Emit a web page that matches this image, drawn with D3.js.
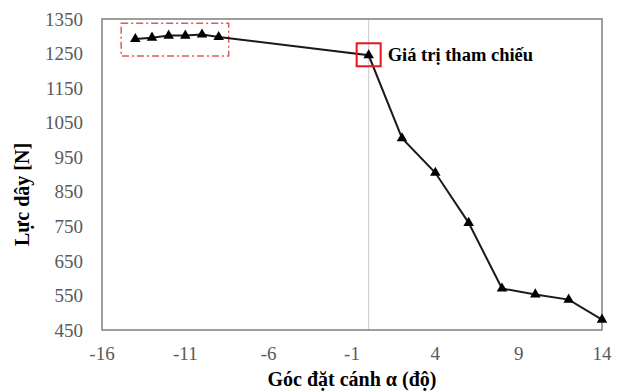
<!DOCTYPE html>
<html>
<head>
<meta charset="utf-8">
<script src="https://cdn.jsdelivr.net/npm/d3@7"></script>
<style>
  body { margin: 0; background: #fff; }
  svg { display: block; }
  text { font-family: "Liberation Serif", "Times New Roman", "DejaVu Serif", serif; }
</style>
</head>
<body>
<div id="chart"></div>
<script>
// goc dat canh (do) va luc day (N)
var angles = [-14, -13, -12, -11, -10, -9, 0, 2, 4, 6, 8, 10, 12, 14];
var forces = [1292, 1296, 1302, 1302, 1305, 1298, 1245, 1005, 905, 760, 570, 553, 538, 480];
var xTicks = [-16, -11, -6, -1, 4, 9, 14];
var yTicks = [450, 550, 650, 750, 850, 950, 1050, 1150, 1250, 1350];
var refIndex = 6;
var refLabel = "Giá trị tham chiếu";
// vung khung do net cham gach
var boxX = [-14.85, -8.4];
var boxY = [1243, 1338];

var margin = { top: 19, right: 18, bottom: 62, left: 102 },
    width = 620 - margin.left - margin.right,
    height = 392 - margin.top - margin.bottom;

var svg = d3.select("#chart")
    .append("svg")
    .attr("width", 620)
    .attr("height", 392)
    .append("g")
    .attr("transform", "translate(" + margin.left + "," + margin.top + ")");

var x = d3.scaleLinear().domain([-16, 14]).range([0, width]);
var y = d3.scaleLinear().domain([450, 1350]).range([height, 0]);

// vertical reference line at 0
svg.append("line")
    .attr("x1", x(0)).attr("x2", x(0))
    .attr("y1", 0).attr("y2", height)
    .style("stroke", "#d0d0d0")
    .style("stroke-width", 1.2);

// plot border
svg.append("rect")
    .attr("x", 0).attr("y", 0)
    .attr("width", width).attr("height", height)
    .style("fill", "none")
    .style("stroke", "#7f7f7f")
    .style("stroke-width", 1.5);

// tick labels
svg.append("g").selectAll("text")
    .data(yTicks).enter()
    .append("text")
    .attr("x", -19)
    .attr("y", function (d) { return y(d); })
    .attr("dy", "0.35em")
    .style("text-anchor", "end")
    .style("font-size", "19px")
    .style("fill", "#595959")
    .text(function (d) { return d; });

svg.append("g").selectAll("text")
    .data(xTicks).enter()
    .append("text")
    .attr("x", function (d) { return x(d); })
    .attr("y", height + 30)
    .style("text-anchor", "middle")
    .style("font-size", "19px")
    .style("fill", "#595959")
    .text(function (d) { return d; });

// axis titles
svg.append("text")
    .attr("transform", "translate(" + (-80) + "," + (height / 2 + 20) + ") rotate(-90)")
    .attr("dy", "0.35em")
    .style("text-anchor", "middle")
    .style("font-weight", "bold")
    .style("font-size", "20px")
    .style("fill", "#000")
    .text("Lực dây [N]");

svg.append("text")
    .attr("x", x(-1))
    .attr("y", height + 56)
    .style("text-anchor", "middle")
    .style("font-weight", "bold")
    .style("font-size", "20px")
    .style("fill", "#000")
    .text("Góc đặt cánh α (độ)");

// dash-dot red box
svg.append("rect")
    .attr("x", x(boxX[0]))
    .attr("y", y(boxY[1]))
    .attr("width", x(boxX[1]) - x(boxX[0]))
    .attr("height", y(boxY[0]) - y(boxY[1]))
    .style("fill", "none")
    .style("stroke", "#e05a5a")
    .style("stroke-width", 1.5)
    .style("stroke-dasharray", "7,3,2,3");

// line
var pts = angles.map(function (a, i) { return [a, forces[i]]; });
var line = d3.line()
    .x(function (d) { return x(d[0]); })
    .y(function (d) { return y(d[1]); });

svg.append("path")
    .datum(pts)
    .attr("d", line)
    .style("fill", "none")
    .style("stroke", "#1a1a1a")
    .style("stroke-width", 2);

// triangle markers
var tri = d3.symbol().type(d3.symbolTriangle).size(48);
svg.append("g").selectAll("path")
    .data(pts).enter()
    .append("path")
    .attr("d", tri)
    .attr("transform", function (d) { return "translate(" + x(d[0]) + "," + y(d[1]) + ")"; })
    .style("fill", "#000");

// reference point highlight
var rx = x(angles[refIndex]), ry = y(forces[refIndex]);
svg.append("rect")
    .attr("x", rx - 12)
    .attr("y", ry - 12)
    .attr("width", 24)
    .attr("height", 23)
    .style("fill", "none")
    .style("stroke", "#e8141c")
    .style("stroke-width", 2);

svg.append("text")
    .attr("x", rx + 19)
    .attr("y", ry + 6)
    .style("font-weight", "bold")
    .style("font-size", "18.5px")
    .style("fill", "#000")
    .text(refLabel);
</script>
</body>
</html>
